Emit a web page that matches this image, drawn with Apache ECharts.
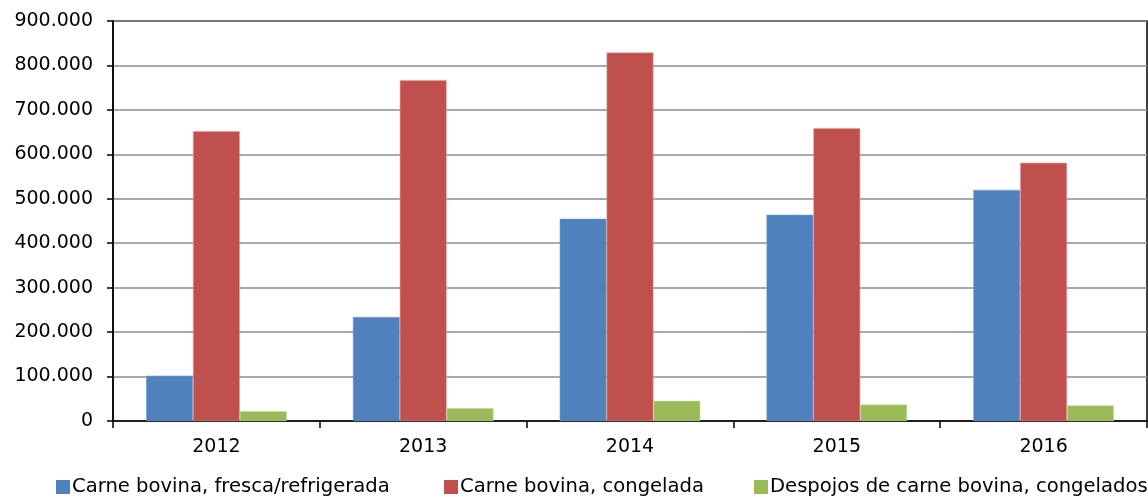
<!DOCTYPE html>
<html>
<head>
<meta charset="utf-8">
<script src="https://cdn.jsdelivr.net/npm/echarts@6/dist/echarts.min.js"></script>
<style>
  html, body { margin: 0; padding: 0; background: #fff; }
  #chart { width: 1148px; height: 497px; }
</style>
</head>
<body>
<div id="chart"></div>
<script>
var anos = ['2012', '2013', '2014', '2015', '2016'];
var frescaRefrigerada = [102000, 234000, 455000, 464000, 520000];
var congelada = [652000, 767000, 829000, 659000, 581000];
var despojos = [22000, 29000, 45500, 37000, 35000];
var nomes = ['Carne bovina, fresca/refrigerada', 'Carne bovina, congelada', 'Despojos de carne bovina, congelados'];
var cores = ['#4f81bd', '#c0504d', '#9bbb59'];
var bordas = ['#7da0d0', '#e0a0a0', '#c4dca0'];

var fonte = 'DejaVu Sans';

function formatar(v) {
    if (v === 0) return '0';
    var s = String(Math.round(v));
    return s.replace(/\B(?=(\d{3})+(?!\d))/g, '.');
}

// uma legenda por série, como no Excel
var posLegenda = [51, 439, 749];
var legendas = nomes.map(function (n, i) {
    return {
        bottom: -5,
        left: posLegenda[i],
        itemWidth: 14,
        itemHeight: 14,
        icon: 'rect',
        itemStyle: { borderWidth: 0 },
        textStyle: { fontSize: 19.6, color: '#000', fontFamily: fonte, padding: [0, 0, 0, -3] },
        data: [n]
    };
});

var series = [frescaRefrigerada, congelada, despojos].map(function (d, i) {
    return {
        name: nomes[i],
        type: 'bar',
        data: d,
        barGap: '0%',
        barCategoryGap: '32%',
        itemStyle: { color: cores[i], borderColor: bordas[i], borderWidth: 0.6 }
    };
});

var myChart = echarts.init(document.getElementById('chart'));

var option = {
    animation: false,
    textStyle: { fontFamily: fonte },
    grid: {
        left: 113,
        right: 1,
        top: 21,
        bottom: 76,
        show: true,
        borderColor: '#000',
        borderWidth: 1.5
    },
    legend: legendas,
    xAxis: {
        type: 'category',
        data: anos,
        axisLine: { lineStyle: { color: '#000', width: 1.5 } },
        axisTick: { show: true, length: 7, lineStyle: { color: '#000', width: 1.5 } },
        axisLabel: { fontSize: 19, color: '#000', margin: 17, fontFamily: fonte }
    },
    yAxis: {
        type: 'value',
        min: 0,
        max: 900000,
        interval: 100000,
        axisLine: { show: true, lineStyle: { color: '#000', width: 1.5 } },
        axisTick: { show: true, length: 6, lineStyle: { color: '#000', width: 1.5 } },
        splitLine: { lineStyle: { color: '#8c8c8c', width: 1.5 } },
        axisLabel: {
            fontSize: 19,
            color: '#000',
            margin: 20,
            fontFamily: fonte,
            formatter: formatar
        }
    },
    series: series
};

myChart.setOption(option);
</script>
</body>
</html>
